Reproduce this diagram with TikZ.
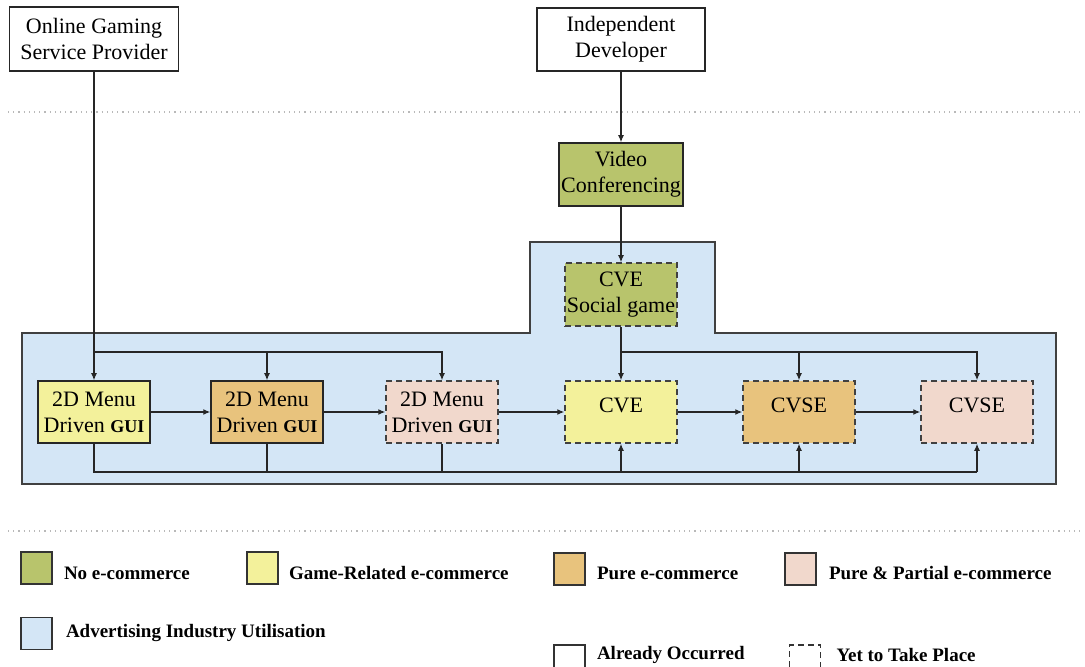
\documentclass[tikz,border=0pt]{standalone}
\usepackage{fontspec}
\setmainfont{Liberation Serif}
\usepackage{xcolor}
\definecolor{cvgreen}{RGB}{184,196,108}
\definecolor{cvyellow}{RGB}{243,241,155}
\definecolor{cvorange}{RGB}{232,195,125}
\definecolor{cvpink}{RGB}{241,216,204}
\definecolor{cvblue}{RGB}{212,230,246}
\usetikzlibrary{arrows.meta, positioning}
\newcommand{\guitext}{{\fontsize{9}{10}\selectfont\bfseries GUI}}

\begin{document}
\begin{tikzpicture}[x=0.5pt, y=-0.5pt,
    box/.style={draw=black!85, line width=0.75pt, minimum width=56pt, minimum height=31pt,
      inner sep=1pt, align=center, font=\fontsize{11}{13}\selectfont},
    todo/.style={box, draw=black!75, dash pattern=on 3pt off 2pt},
    onerow/.style={text height=7.2pt, text depth=6.5pt},
    arr/.style={-{Latex[length=3.5pt,width=3pt]}, line width=0.6pt, black!85},
    link/.style={line width=0.6pt, black!85},
    swatch/.style={draw=black!80, line width=0.6pt, minimum width=15.5pt, minimum height=16pt, inner sep=0pt},
    legtext/.style={font=\fontsize{9.5}{11}\selectfont\bfseries, inner sep=0pt}]
  \clip (0,0) rectangle (1085,667);
  % Separators
  \draw[gray!55, dotted, line width=0.6pt] (8,112) -- (1080,112);
  \draw[gray!55, dotted, line width=0.6pt] (8,531) -- (1080,531);
  % Advertising area
  \draw[fill=cvblue, draw=black!75, line width=0.6pt] (22,333) -- (530,333) -- (530,242) -- (715,242)
    -- (715,333) -- (1056,333) -- (1056,484) -- (22,484) -- cycle;
  % Sources
  \node[box, minimum width=84.5pt, minimum height=32pt, line width=0.8pt] (gamesp) at (94,39) {Online Gaming\\Service Provider};
  \node[box, minimum width=84pt, minimum height=31.5pt, line width=0.8pt] (indev) at (621,39.5) {Independent\\Developer};
  \node[box, fill=cvgreen, minimum width=60pt, minimum height=31.5pt] (videoc) at (621,174.5) {Video\\Conferencing};
  \node[todo, fill=cvgreen, minimum height=31.5pt] (socialg) at (621,294.5) {CVE\\Social game};
  % Main row
  \node[box, fill=cvyellow] (menua) at (94,412) {2D Menu\\Driven \guitext};
  \node[box, fill=cvorange] (menub) at (267,412) {2D Menu\\Driven \guitext};
  \node[todo, fill=cvpink] (menuc) at (442,412) {2D Menu\\Driven \guitext};
  \node[todo, onerow, fill=cvyellow] (cve) at (621,412) {CVE};
  \node[todo, onerow, fill=cvorange] (cvsea) at (799,412) {CVSE};
  \node[todo, onerow, fill=cvpink] (cvseb) at (977,412) {CVSE};
  \coordinate (bustop) at (0,352);
  \coordinate (busbot) at (0,472);
  % Connectors
  \draw[arr] (indev) -- (videoc);
  \draw[arr] (videoc) -- (socialg);
  \draw[arr] (gamesp) -- (menua);
  \draw[arr] (menua.north |- bustop) -| (menub);
  \draw[arr] (menua.north |- bustop) -| (menuc);
  \draw[arr] (socialg) -- (cve);
  \draw[arr] (cve.north |- bustop) -| (cvsea);
  \draw[arr] (cve.north |- bustop) -| (cvseb);
  \foreach \a/\b in {menua/menub, menub/menuc, menuc/cve, cve/cvsea, cvsea/cvseb}
    \draw[arr] (\a) -- (\b);
  \draw[link] (menua) |- (cvseb.south |- busbot);
  \draw[link] (menub) -- (menub.south |- busbot);
  \draw[link] (menuc) -- (menuc.south |- busbot);
  \foreach \n in {cve, cvsea, cvseb}
    \draw[arr] (\n.south |- busbot) -- (\n);
  % Legend
  \node[swatch, fill=cvgreen] (keygreen) at (36.5,568) {};
  \node[legtext, right=5.5pt of keygreen, yshift=-2.5pt] (keygreentxt) {No e-commerce};
  \node[swatch, fill=cvyellow] (keyyellow) at (262.5,568) {};
  \node[legtext, right=5pt of keyyellow, yshift=-2.5pt] (keyyellowtxt) {Game-Related e-commerce};
  \node[swatch, fill=cvorange] (keyorange) at (569.5,569) {};
  \node[legtext, right=5.5pt of keyorange, yshift=-2pt] (keyorangetxt) {Pure e-commerce};
  \node[swatch, fill=cvpink] (keypink) at (800.5,569) {};
  \node[legtext, right=6pt of keypink, yshift=-2pt] (keypinktxt) {Pure \& Partial e-commerce};
  \node[swatch, fill=cvblue] (keyblue) at (36.5,633.5) {};
  \node[legtext, right=6.5pt of keyblue] (keybluetxt) {Advertising Industry Utilisation};
  \node[swatch, fill=white] (keydone) at (569.5,661) {};
  \node[legtext, right=5.5pt of keydone, yshift=3pt] (keydonetxt) {Already Occurred};
  \node[swatch, fill=white, dash pattern=on 3pt off 2pt] (keytodo) at (805,661) {};
  \node[legtext, right=7.5pt of keytodo, yshift=3pt] (keytodotxt) {Yet to Take Place};
\end{tikzpicture}
\end{document}
